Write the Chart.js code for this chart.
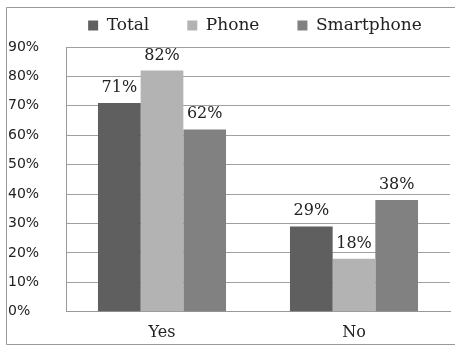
<!DOCTYPE html>
<html><head><meta charset="utf-8">
<script src="https://cdn.jsdelivr.net/npm/chart.js@4/dist/chart.umd.min.js"></script>
<style>
html,body{margin:0;padding:0;background:#fff;}
#c{position:absolute;left:0;top:0;}
</style></head>
<body>
<canvas id="c" width="455" height="347"></canvas>
<script>
const categories = ["Yes", "No"];
const seriesNames = ["Total", "Phone", "Smartphone"];
const totalValues = [71, 29];
const phoneValues = [82, 18];
const smartphoneValues = [62, 38];
const yTicks = [0, 10, 20, 30, 40, 50, 60, 70, 80, 90];
const colors = ["#5f5f5f", "#b3b3b3", "#818181"];

const frame = {
  id: 'frame',
  beforeDraw(chart) {
    const ctx = chart.ctx;
    ctx.save();
    ctx.strokeStyle = '#999';
    ctx.lineWidth = 1;
    ctx.beginPath();
    ctx.moveTo(460, 7.5); ctx.lineTo(6.5, 7.5); ctx.lineTo(6.5, 344.5); ctx.lineTo(460, 344.5);
    ctx.stroke();
    ctx.restore();
  }
};

const legendShift = {
  id: 'legendShift',
  afterLayout(chart) {
    if (chart.legend) { chart.legend.left += 26; chart.legend.right += 26; }
  }
};

const valueLabels = {
  id: 'valueLabels',
  afterDatasetsDraw(chart) {
    const ctx = chart.ctx;
    ctx.save();
    ctx.font = '16px "DejaVu Serif", serif';
    ctx.fillStyle = '#222';
    ctx.textAlign = 'center';
    ctx.textBaseline = 'alphabetic';
    chart.data.datasets.forEach((ds, i) => {
      chart.getDatasetMeta(i).data.forEach((bar, j) => {
        ctx.fillText(ds.data[j] + '%', bar.x, bar.y - 11);
      });
    });
    ctx.restore();
  }
};

const chart = new Chart(document.getElementById('c'), {
  type: 'bar',
  data: {
    labels: categories,
    datasets: [
      { label: seriesNames[0], data: totalValues, backgroundColor: colors[0] },
      { label: seriesNames[1], data: phoneValues, backgroundColor: colors[1] },
      { label: seriesNames[2], data: smartphoneValues, backgroundColor: colors[2] }
    ]
  },
  options: {
    responsive: false,
    animation: false,
    layout: { padding: { left: 8, right: 5, top: -21, bottom: -6 } },
    datasets: { bar: { categoryPercentage: 0.667, barPercentage: 1.0 } },
    plugins: {
      legend: {
        position: 'top',
        labels: {
          boxWidth: 10, boxHeight: 10, padding: 38,
          color: '#222',
          font: { family: '"DejaVu Serif", serif', size: 17 }
        }
      },
      tooltip: { enabled: false }
    },
    scales: {
      x: {
        grid: { display: false, drawTicks: false },
        border: { color: '#999' },
        ticks: { color: '#222', font: { family: '"DejaVu Serif", serif', size: 16 }, padding: 11 }
      },
      y: {
        min: 0, max: 90,
        afterBuildTicks(scale) { scale.ticks = yTicks.map(v => ({ value: v })); },
        afterFit(scale) { scale.width = 58; },
        grid: { color: '#a0a0a0', drawTicks: false },
        border: { color: '#999' },
        ticks: {
          color: '#222', crossAlign: 'far', padding: 6,
          font: { family: '"DejaVu Sans", sans-serif', size: 14 },
          callback: v => v + '%'
        }
      }
    }
  },
  plugins: [frame, legendShift, valueLabels]
});

const lg = chart.legend;
const origFit = lg.fit.bind(lg);
lg.fit = function () { origFit(); this.height = 68; };
chart.update();
</script>
</body></html>
